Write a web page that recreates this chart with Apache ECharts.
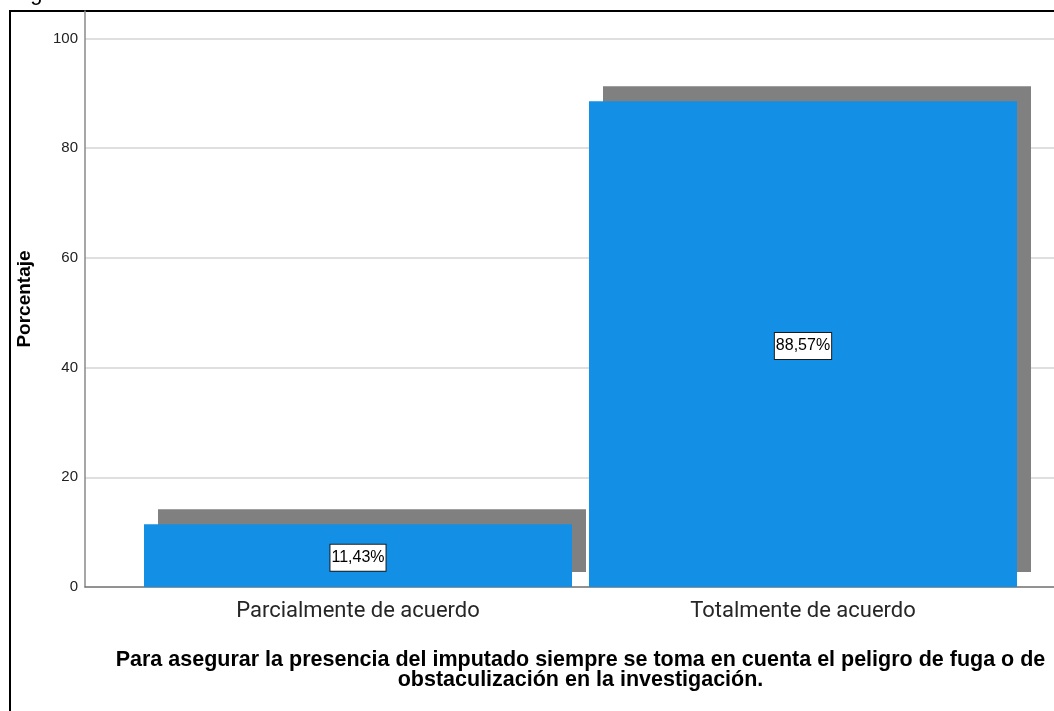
<!DOCTYPE html>
<html>
<head>
<meta charset="utf-8">
<script src="https://cdn.jsdelivr.net/npm/echarts@6/dist/echarts.min.js"></script>
<style>
  html, body { margin: 0; padding: 0; background: #fff; }
  #chart { width: 1054px; height: 711px; }
</style>
</head>
<body>
<div id="chart"></div>
<script>
  // data
  const categories = ['Parcialmente de acuerdo', 'Totalmente de acuerdo'];
  const percentValues = [11.43, 88.57];
  const yTicks = [0, 20, 40, 60, 80, 100];

  const xTitle = 'Para asegurar la presencia del imputado siempre se toma en cuenta el peligro de fuga o de\nobstaculización en la investigación.';
  const yTitle = 'Porcentaje';

  const barColor = '#1390e6';
  const shadowColor = '#808080';
  const gridColor = '#d4d4d4';

  const chart = echarts.init(document.getElementById('chart'));

  chart.setOption({
    animation: false,
    graphic: [
      {
        type: 'text',
        left: 12,
        top: -17,
        style: {text: 'Figura 1.', fontSize: 22, fontFamily: 'Liberation Sans', fill: '#000'}
      },
      {
        type: 'polyline',
        shape: {points: [[10, 720], [10, 11], [1060, 11]]},
        style: {stroke: '#000', lineWidth: 2, fill: null}
      }
    ],
    grid: [
      // frame grid: axis lines and split lines
      {left: 85, right: 0, top: 11, bottom: 124},
      // bar grid: category bands
      {left: 135.5, right: 28.5, top: 11, bottom: 124}
    ],
    xAxis: [
      {
        gridIndex: 0,
        type: 'category',
        data: [''],
        axisLine: {lineStyle: {color: '#7a7a7a', width: 1.5}},
        axisTick: {show: false},
        axisLabel: {show: false}
      },
      {
        gridIndex: 1,
        type: 'category',
        data: categories,
        axisLine: {show: false},
        axisTick: {show: false},
        axisLabel: {
          margin: 13,
          fontSize: 22,
          fontFamily: 'Roboto',
          color: '#262626'
        },
        name: xTitle,
        nameLocation: 'middle',
        nameGap: 63,
        nameTextStyle: {
          fontSize: 21.5,
          fontWeight: 'bold',
          fontFamily: 'Liberation Sans',
          color: '#000',
          lineHeight: 20,
          align: 'center'
        }
      }
    ],
    yAxis: [
      {
        gridIndex: 0,
        type: 'value',
        min: 0,
        max: 105,
        interval: 20,
        axisLine: {show: true, lineStyle: {color: '#8a8a8a', width: 1.5}},
        axisTick: {show: false},
        splitLine: {show: true, showMaxLine: false, lineStyle: {color: gridColor, width: 1.5}},
        axisLabel: {
          showMaxLabel: false,
          margin: 7,
          fontSize: 15,
          fontFamily: 'Liberation Sans',
          color: '#222',
          formatter: function (v) { return yTicks.indexOf(v) >= 0 ? String(v) : ''; }
        },
        name: yTitle,
        nameLocation: 'middle',
        nameGap: 51,
        nameTextStyle: {fontSize: 19, fontWeight: 'bold', fontFamily: 'Liberation Sans', color: '#000'}
      },
      {
        gridIndex: 1,
        type: 'value',
        min: 0,
        max: 105,
        show: false
      }
    ],
    series: [
      {
        type: 'bar',
        xAxisIndex: 1,
        yAxisIndex: 1,
        data: percentValues,
        barWidth: 428,
        itemStyle: {
          color: barColor,
          shadowColor: shadowColor,
          shadowBlur: 0,
          shadowOffsetX: 14,
          shadowOffsetY: -15
        },
        label: {
          show: true,
          position: 'inside',
          offset: [0, 2],
          formatter: function (p) { return p.value.toFixed(2).replace('.', ',') + '%'; },
          fontSize: 16,
          fontFamily: "'Liberation Sans Narrow', 'Liberation Sans', sans-serif",
          color: '#000',
          backgroundColor: '#fff',
          borderColor: '#1a1a1a',
          borderWidth: 1,
          padding: [6, 1, 4, 1]
        }
      }
    ]
  });
</script>
</body>
</html>
